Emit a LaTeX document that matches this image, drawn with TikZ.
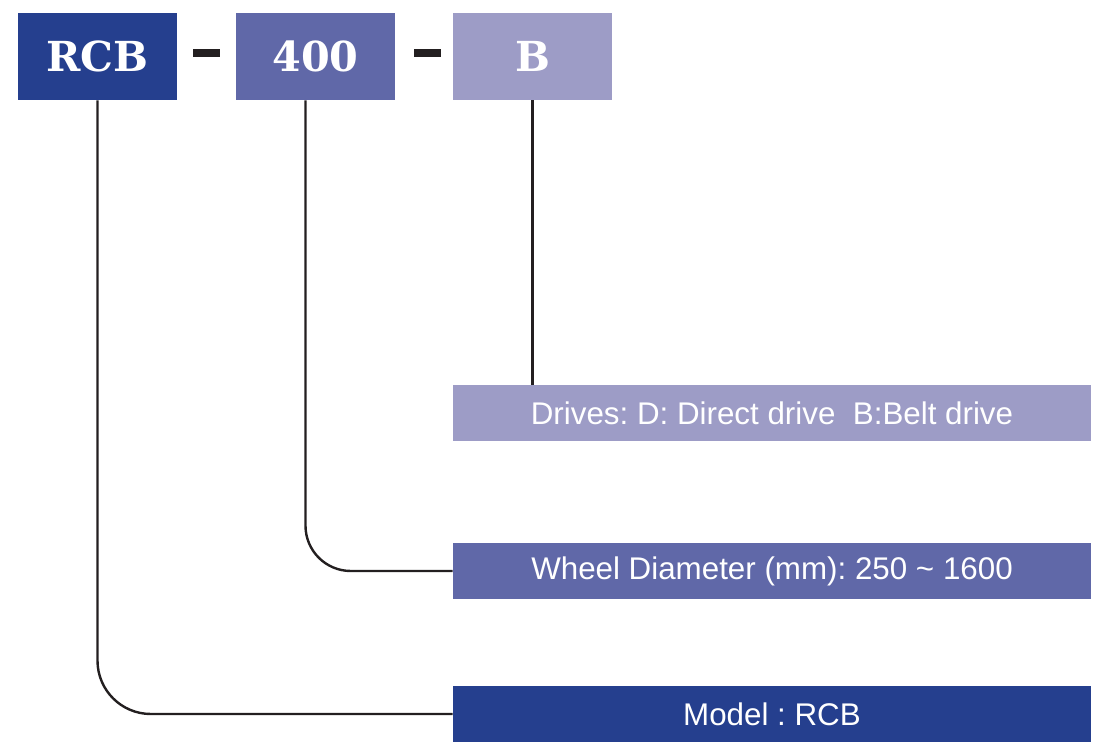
\documentclass[tikz,border=0pt]{standalone}
\usepackage{fontspec}
\setmainfont{Liberation Sans}
\newfontfamily\codefont{DejaVu Serif}
\usetikzlibrary{positioning}
\definecolor{rcbdark}{RGB}{37,63,142}
\definecolor{rcbmid}{RGB}{96,104,168}
\definecolor{rcblight}{RGB}{157,156,198}
\definecolor{leadline}{RGB}{35,31,32}
\frenchspacing
\begin{document}
\begin{tikzpicture} [x=0.75pt, y=-0.75pt, inner sep=0pt,
        code/.style={rectangle, minimum width=119.25pt, minimum height=65.25pt, text=white, font=\codefont\bfseries\fontsize{31}{31}\selectfont},
        info/.style={rectangle, minimum width=478.5pt, minimum height=42pt, text=white, font=\fontsize{23.5}{23.5}\selectfont},
        sep/.style={rectangle, fill=leadline, minimum width=20pt, minimum height=6pt},
        lead/.style={draw=leadline, line width=1.8pt, rounded corners=40pt}]
                \useasboundingbox (0,0) rectangle (1097,753);
                \node (Series) [code, fill=rcbdark] at(97.5,56.5) {RCB};
                \node (Size) [code, fill=rcbmid] at(315.5,56.5) {400};
                \node (Drive) [code, fill=rcblight] at(532.5,56.5) {B};
                \node (SepA) [sep] at(206.5,53) {};
                \node (SepB) [sep] at(427.5,53) {};
                \node (DriveInfo) [info, fill=rcblight] at(772,413) {Drives: D: Direct drive~~B:Belt drive};
                \node (SizeInfo) [info, fill=rcbmid] at(772,571) {Wheel Diameter (mm): 250 \textasciitilde{} 1600};
                \node (SeriesInfo) [info, fill=rcbdark] at(772,714) {Model : RCB};

                \draw[lead] (Drive.south) -- (Drive.south |- DriveInfo.north);
                \draw[lead, rounded corners=34pt] ([xshift=-7.5pt]Size.south) |- (SizeInfo.west);
                \draw[lead] (Series.south) |- (SeriesInfo.west);
            \end{tikzpicture}
\end{document}
